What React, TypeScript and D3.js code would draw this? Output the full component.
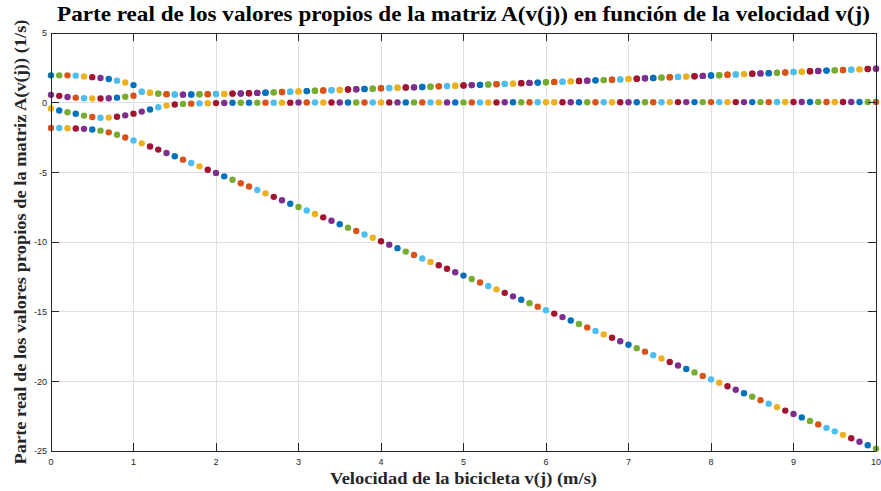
import React from 'react';
import * as d3 from 'd3';

// Bicycle speed v(j) in m/s
const velocity = [
  0, 0.1, 0.2, 0.3, 0.4, 0.5, 0.6, 0.7, 0.8, 0.9,
  1, 1.1, 1.2, 1.3, 1.4, 1.5, 1.6, 1.7, 1.8, 1.9,
  2, 2.1, 2.2, 2.3, 2.4, 2.5, 2.6, 2.7, 2.8, 2.9,
  3, 3.1, 3.2, 3.3, 3.4, 3.5, 3.6, 3.7, 3.8, 3.9,
  4, 4.1, 4.2, 4.3, 4.4, 4.5, 4.6, 4.7, 4.8, 4.9,
  5, 5.1, 5.2, 5.3, 5.4, 5.5, 5.6, 5.7, 5.8, 5.9,
  6, 6.1, 6.2, 6.3, 6.4, 6.5, 6.6, 6.7, 6.8, 6.9,
  7, 7.1, 7.2, 7.3, 7.4, 7.5, 7.6, 7.7, 7.8, 7.9,
  8, 8.1, 8.2, 8.3, 8.4, 8.5, 8.6, 8.7, 8.8, 8.9,
  9, 9.1, 9.2, 9.3, 9.4, 9.5, 9.6, 9.7, 9.8, 9.9,
  10,
];

// Real part of each eigenvalue of A(v(j)), in 1/s
const eigUpper = [
  1.96, 1.96, 1.96, 1.94, 1.88, 1.83, 1.77, 1.70, 1.58, 1.45, 1.26,
  0.79, 0.71, 0.65, 0.61, 0.59, 0.58, 0.59, 0.60, 0.61, 0.62,
  0.63, 0.65, 0.66, 0.68, 0.70, 0.72, 0.74, 0.77, 0.79, 0.81,
  0.83, 0.85, 0.87, 0.89, 0.91, 0.94, 0.96, 0.98, 1.00,
  1.03, 1.05, 1.07, 1.09, 1.10, 1.12, 1.14, 1.17, 1.19, 1.21,
  1.24, 1.26, 1.28, 1.30, 1.33, 1.35, 1.37, 1.40, 1.42, 1.44,
  1.46, 1.49, 1.51, 1.53, 1.55, 1.58, 1.60, 1.62, 1.65,
  1.67, 1.70, 1.72, 1.75, 1.77, 1.80, 1.82, 1.85, 1.87, 1.90,
  1.92, 1.95, 1.97, 2.00, 2.02, 2.05, 2.07, 2.10, 2.12, 2.15,
  2.17, 2.20, 2.22, 2.25, 2.27, 2.30, 2.32, 2.34, 2.37, 2.39,
  2.42, 2.44,
];

// Second eigenvalue: joins the upper one as a complex pair (same real part) from 1.1 m/s
const eigSecond = [
  0.56, 0.49, 0.41, 0.36, 0.32, 0.30, 0.30, 0.32, 0.36, 0.42, 0.50,
  0.79, 0.71, 0.65, 0.61, 0.59, 0.58, 0.59, 0.60, 0.61, 0.62,
  0.63, 0.65, 0.66, 0.68, 0.70, 0.72, 0.74, 0.77, 0.79, 0.81,
  0.83, 0.85, 0.87, 0.89, 0.91, 0.94, 0.96, 0.98, 1.00,
  1.03, 1.05, 1.07, 1.09, 1.10, 1.12, 1.14, 1.17, 1.19, 1.21,
  1.24, 1.26, 1.28, 1.30, 1.33, 1.35, 1.37, 1.40, 1.42, 1.44,
  1.46, 1.49, 1.51, 1.53, 1.55, 1.58, 1.60, 1.62, 1.65,
  1.67, 1.70, 1.72, 1.75, 1.77, 1.80, 1.82, 1.85, 1.87, 1.90,
  1.92, 1.95, 1.97, 2.00, 2.02, 2.05, 2.07, 2.10, 2.12, 2.15,
  2.17, 2.20, 2.22, 2.25, 2.27, 2.30, 2.32, 2.34, 2.37, 2.39,
  2.42, 2.44,
];

const eigNearZero = [
  -0.42, -0.56, -0.69, -0.80, -0.93, -1.03, -1.08, -1.07, -1.01, -0.91,
  -0.79, -0.64, -0.49, -0.33, -0.21, -0.13, -0.09, -0.07, -0.05, -0.04,
  -0.03, -0.02, -0.01, -0.01, 0.00, 0.00, 0.00, 0.00, 0.00, 0.00,
  0.01, 0.01, 0.01, 0.01, 0.01, 0.01, 0.01, 0.01, 0.01, 0.01,
  0.02, 0.02, 0.02, 0.02, 0.02, 0.02, 0.02, 0.02, 0.02, 0.02,
  0.02, 0.02, 0.02, 0.02, 0.02, 0.03, 0.03, 0.03, 0.03, 0.03,
  0.03, 0.03, 0.03, 0.03, 0.03, 0.03, 0.03, 0.03, 0.03, 0.03,
  0.03, 0.03, 0.03, 0.03, 0.03, 0.04, 0.04, 0.04, 0.04, 0.04,
  0.04, 0.04, 0.04, 0.04, 0.04, 0.04, 0.04, 0.04, 0.05, 0.05,
  0.05, 0.05, 0.05, 0.05, 0.05, 0.05, 0.05, 0.05, 0.05, 0.05,
  0.05,
];

const eigDescending = [
  -1.82, -1.82, -1.83, -1.85, -1.88, -1.93, -2.01, -2.13, -2.30, -2.50,
  -2.71, -2.92, -3.15, -3.37, -3.61, -3.85, -4.09, -4.33, -4.57, -4.81,
  -5.05, -5.29, -5.53, -5.78, -6.02, -6.27, -6.51, -6.76, -7.00, -7.25,
  -7.49, -7.74, -7.99, -8.23, -8.48, -8.72, -8.97, -9.21, -9.46, -9.70,
  -9.95, -10.19, -10.44, -10.69, -10.93, -11.18, -11.43, -11.67, -11.92, -12.17,
  -12.41, -12.66, -12.91, -13.16, -13.40, -13.65, -13.90, -14.15, -14.39, -14.64,
  -14.89, -15.14, -15.39, -15.63, -15.88, -16.13, -16.38, -16.63, -16.87, -17.12,
  -17.37, -17.62, -17.87, -18.12, -18.36, -18.61, -18.86, -19.11, -19.36, -19.61,
  -19.86, -20.10, -20.35, -20.60, -20.85, -21.10, -21.35, -21.60, -21.85, -22.10,
  -22.34, -22.59, -22.84, -23.09, -23.34, -23.59, -23.84, -24.09, -24.34, -24.59,
  -24.84,
];

// Colour order of every plotted point (one letter per speed step)
const colorsUpper =
  'BGOLYRPBLYB' +
  'LYGOLPBGOLYRPRPBGOLYBGOLYRPBG' +
  'OLYRPBGOLYRPBGOLYRPBGOLYRPBGOLYRPBGOLYRPBGOLYRPBGOLYRPBGOLYRP';
const colorsSecond =
  'PRPOLYRPBGO' +
  'LYGOLPBGOLYRPRPBGOLYBGOLYRPBG' +
  'OLYRPBGOLYRPBGOLYRPBGOLYRPBGOLYRPBGOLYRPBGOLYRPBGOLYRPBGOLYRP';
const colorsNearZero =
  'YBGBGOLYRPRPBLY' +
  'RGOLYRPBGBGOLYRPOLYRPBGOL' +
  'YRPBGOLYPBGOLYRPBGOLYYRPBGOLY' +
  'RPBGOLYRPBGOLYRPBGOLYRPBGOYRPBGO';
const colorsDescending =
  'OLYRPBGOGOLYRRP' +
  'BOLYRPBGOOLYRPBGLYRPBGOLYR' +
  'PBGOLYRRPBGOLYRPBGOLRPBGOLYRPB' +
  'GOLYRPBGOLYRPBGOLYRPBGOLLYRPBG';

const palette: Record<string, string> = {
  B: '#0072BD',
  O: '#D95319',
  Y: '#EDB120',
  P: '#7E2F8E',
  G: '#77AC30',
  L: '#4DBEEE',
  R: '#A2142F',
};

const xTicks = [0, 1, 2, 3, 4, 5, 6, 7, 8, 9, 10];
const yTicks = [-25, -20, -15, -10, -5, 0, 5];

const titleText =
  'Parte real de los valores propios de la matriz A(v(j)) en función de la velocidad v(j)';
const xLabelText = 'Velocidad de la bicicleta v(j) (m/s)';
const yLabelText = 'Parte real de los valores propios de la matriz A(v(j)) (1/s)';

const seriesList = [
  { values: eigSecond, colors: colorsSecond },
  { values: eigUpper, colors: colorsUpper },
  { values: eigNearZero, colors: colorsNearZero },
  { values: eigDescending, colors: colorsDescending },
];

export default function App() {
  const width = 881;
  const height = 491;
  const left = 51;
  const right = 876;
  const top = 33;
  const bottom = 451;

  const x = d3.scaleLinear().domain([0, 10]).range([left, right]);
  const y = d3.scaleLinear().domain([-25, 5]).range([bottom, top]);

  const axisColor = '#262626';
  const gridColor = '#e0e0e0';
  const tickLen = 8;
  const serif = "'Liberation Serif', 'Times New Roman', Times, serif";
  const sans = "'Liberation Sans', Arial, Helvetica, sans-serif";

  return (
    <svg
      width={width}
      height={height}
      viewBox={`0 0 ${width} ${height}`}
      style={{ position: 'absolute', left: 0, top: 0, display: 'block', background: '#fff' }}
    >
      <rect x={0} y={0} width={width} height={height} fill="#fff" />

      {/* grid */}
      <g shapeRendering="crispEdges" stroke={gridColor} strokeWidth={1}>
        {xTicks.slice(1, -1).map((t) => (
          <line key={`gx${t}`} x1={x(t)} x2={x(t)} y1={top} y2={bottom} />
        ))}
        {yTicks.slice(1, -1).map((t) => (
          <line key={`gy${t}`} x1={left} x2={right} y1={y(t)} y2={y(t)} />
        ))}
      </g>

      {/* eigenvalue markers */}
      <g>
        {seriesList.map((s, si) =>
          s.values.map((v, j) => (
            <circle
              key={`p${si}-${j}`}
              cx={x(velocity[j])}
              cy={y(v)}
              r={3.2}
              fill={palette[s.colors[j]] || palette.B}
            />
          ))
        )}
      </g>

      {/* axes box and ticks */}
      <g shapeRendering="crispEdges" stroke={axisColor} strokeWidth={1} fill="none">
        <line x1={left} x2={right} y1={bottom} y2={bottom} />
        <line x1={left} x2={right} y1={top} y2={top} />
        <line x1={left} x2={left} y1={top} y2={bottom} />
        <line x1={right} x2={right} y1={top} y2={bottom} />
        {xTicks.map((t) => (
          <g key={`tx${t}`}>
            <line x1={x(t)} x2={x(t)} y1={bottom} y2={bottom - tickLen} />
            <line x1={x(t)} x2={x(t)} y1={top} y2={top + tickLen} />
          </g>
        ))}
        {yTicks.map((t) => (
          <g key={`ty${t}`}>
            <line x1={left} x2={left + tickLen} y1={y(t)} y2={y(t)} />
            <line x1={right} x2={right - tickLen} y1={y(t)} y2={y(t)} />
          </g>
        ))}
      </g>

      {/* tick labels */}
      <g fontFamily={sans} fontSize={9} fill={axisColor}>
        {xTicks.map((t) => (
          <text key={`lx${t}`} x={x(t)} y={bottom + 13.5} textAnchor="middle">
            {String(t)}
          </text>
        ))}
        {yTicks.map((t) => (
          <text key={`ly${t}`} x={left - 4} y={y(t) + 3.2} textAnchor="end">
            {String(t)}
          </text>
        ))}
      </g>

      {/* title and axis labels */}
      <text
        x={(left + right) / 2}
        y={21}
        textAnchor="middle"
        fontFamily={serif}
        fontWeight="bold"
        fontSize={21}
        fill="#000"
        textLength={813}
        lengthAdjust="spacingAndGlyphs"
      >
        {titleText}
      </text>
      <text
        x={(left + right) / 2}
        y={484}
        textAnchor="middle"
        fontFamily={serif}
        fontWeight="bold"
        fontSize={17.5}
        fill="#262626"
        textLength={267}
        lengthAdjust="spacingAndGlyphs"
      >
        {xLabelText}
      </text>
      <text
        transform={`translate(26, ${(top + bottom) / 2}) rotate(-90)`}
        textAnchor="middle"
        fontFamily={serif}
        fontWeight="bold"
        fontSize={17.5}
        fill="#262626"
        textLength={445}
        lengthAdjust="spacingAndGlyphs"
      >
        {yLabelText}
      </text>
    </svg>
  );
}
